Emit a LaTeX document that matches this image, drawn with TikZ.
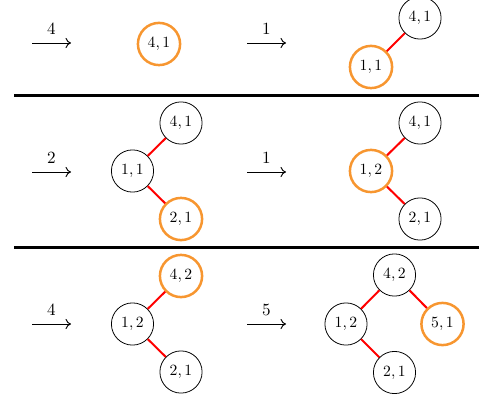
\documentclass[tikz,border=0pt]{standalone}
\usetikzlibrary{arrows.meta}
\definecolor{hlorange}{RGB}{247,150,48}
\begin{document}
\begin{tikzpicture}[x=0.64pt, y=-0.64pt,
    key/.style={circle, draw, line width=0.5pt, minimum size=27pt, inner sep=0pt},
    newkey/.style={key, draw=hlorange, line width=1.6pt},
    link/.style={red, line width=1.3pt},
    insert/.style={-{To[length=3.5pt, width=6.5pt]}, line width=0.6pt}]
  \useasboundingbox (0,0) rectangle (479,400);
  % rules between the rows
  \draw[line width=1.9pt] (14,95.5) -- (479,95.5);
  \draw[line width=1.4pt] (14,247.5) -- (479,247.5);
  % inserted keys
  \foreach \name/\x/\y/\v in {a/32/43/4, b/247/43/1, c/32/172/2, d/247/172/1, e/32/324/4, f/247/324/5} {
    \coordinate (\name0) at (\x,\y);
    \coordinate (\name1) at (\x+39,\y);
    \draw[insert] (\name0) -- node[above, inner sep=5pt, font=\fontsize{11}{13}\selectfont] {$\v$} (\name1);
  }
  % after 4
  \node[newkey] (a41) at (159,44) {$4,1$};
  % after 1
  \node[key] (b41) at (420,18) {$4,1$};
  \node[newkey] (b11) at (371,67) {$1,1$};
  \draw[link] (b41) -- (b11);
  % after 2
  \node[key] (c41) at (181,123) {$4,1$};
  \node[key] (c11) at (132.5,171) {$1,1$};
  \node[newkey] (c21) at (181,219) {$2,1$};
  \draw[link] (c41) -- (c11) -- (c21);
  % after 1
  \node[key] (d41) at (420,123) {$4,1$};
  \node[newkey] (d12) at (371,171) {$1,2$};
  \node[key] (d21) at (420,219) {$2,1$};
  \draw[link] (d41) -- (d12) -- (d21);
  % after 4
  \node[newkey] (e42) at (181,276) {$4,2$};
  \node[key] (e12) at (132.5,324) {$1,2$};
  \node[key] (e21) at (181,372) {$2,1$};
  \draw[link] (e42) -- (e12) -- (e21);
  % after 5
  \node[key] (f42) at (394.5,275) {$4,2$};
  \node[key] (f12) at (346,324) {$1,2$};
  \node[newkey] (f51) at (442.5,324) {$5,1$};
  \node[key] (f21) at (394.5,372.5) {$2,1$};
  \draw[link] (f42) -- (f12) -- (f21);
  \draw[link] (f42) -- (f51);
\end{tikzpicture}
\end{document}
